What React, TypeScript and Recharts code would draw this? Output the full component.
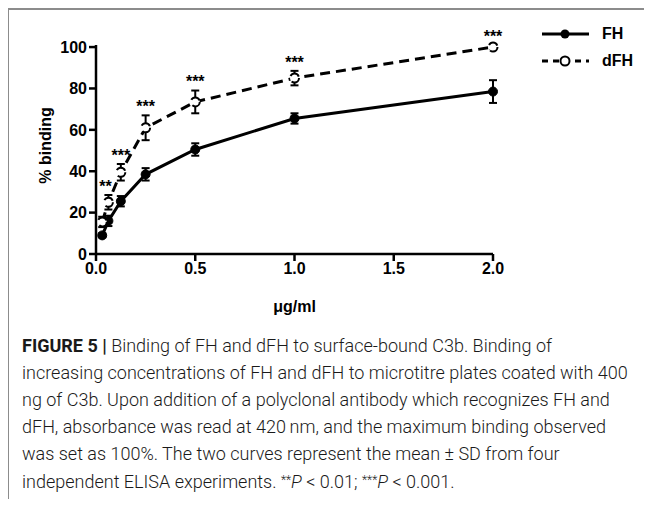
import { ErrorBar, LabelList, Legend, Line, LineChart, XAxis, YAxis } from 'recharts';

// concentrations (µg/ml) and mean ± SD % binding
const doses = [0.03125, 0.0625, 0.125, 0.25, 0.5, 1, 2];
const fhMean = [9, 16, 25.5, 38.5, 50.5, 65.5, 78.5];
const fhSd = [1, 2.5, 2.5, 3, 3, 2.5, 5.5];
const dfhMean = [15.5, 25, 39.5, 61, 73.5, 85, 100];
const dfhSd = [2.5, 3.5, 4, 6, 5.5, 3.5, 1];
const stars = ['', '**', '***', '***', '***', '***', '***'];

const xTicks = [0, 0.5, 1, 1.5, 2];
const yTicks = [0, 20, 40, 60, 80, 100];

const data = doses.map((d, i) => ({
	dose: d,
	fh: fhMean[i],
	fhSd: fhSd[i],
	dfh: dfhMean[i],
	dfhSd: dfhSd[i],
	stars: stars[i]
}));

const chartFont = '"Liberation Sans", Arial, sans-serif';
const PLOT_H = 209;

const renderLegend = () => (
	<div style={{ fontFamily: chartFont, fontWeight: 700, fontSize: 16, color: '#000' }}>
		<div style={{ display: 'flex', alignItems: 'center', height: 27 }}>
			<svg width={62} height={14}>
				<line x1={2} x2={49} y1={7} y2={7} stroke="#000" strokeWidth={3} />
				<circle cx={25} cy={7} r={4.5} fill="#000" />
			</svg>
			<span>FH</span>
		</div>
		<div style={{ display: 'flex', alignItems: 'center', height: 27 }}>
			<svg width={62} height={14}>
				<line x1={2} x2={49} y1={7} y2={7} stroke="#000" strokeWidth={3} strokeDasharray="6 5" />
				<circle cx={25} cy={7} r={4.5} fill="#fff" stroke="#000" strokeWidth={2} />
			</svg>
			<span>dFH</span>
		</div>
	</div>
);

const renderStars = (props: any) => {
	const { x, y, value, index } = props;
	if (!value) return null;
	const off = (dfhSd[index] * PLOT_H) / 100;
	return (
		<text x={x - (value.length === 2 ? 3 : 0)} y={y - off - 3} textAnchor="middle" fontFamily={chartFont} fontWeight={700} fontSize={16} fill="#000">
			{value}
		</text>
	);
};

const captionLines = [
	'increasing concentrations of FH and dFH to microtitre plates coated with 400',
	'ng of C3b. Upon addition of a polyclonal antibody which recognizes FH and',
	'dFH, absorbance was read at 420\u2009nm, and the maximum binding observed',
	'was set as 100%. The two curves represent the mean \u00b1 SD from four'
];

export default function App() {
	return (
		<div style={{ position: 'relative', width: 652, height: 507, margin: -8, background: '#fff', overflow: 'hidden' }}>
			<div style={{ position: 'absolute', left: 7, right: 0, top: 8, height: 2, background: '#8c8c8c' }} />
			<div style={{ position: 'absolute', left: 7, top: 8, bottom: 0, width: 2, background: '#8c8c8c' }} />
			<div style={{ position: 'absolute', left: 0, top: 0 }}>
				<LineChart width={652} height={330} data={data} margin={{ top: 45, right: 159, bottom: 16, left: 36 }}>
					<XAxis
						dataKey="dose"
						type="number"
						domain={[0, 2]}
						ticks={xTicks}
						tickFormatter={(v: number) => v.toFixed(1)}
						height={60}
						stroke="#000"
						strokeWidth={2.5}
						tickSize={7}
						tick={{ fill: '#000', fontSize: 16, fontWeight: 700, fontFamily: chartFont }}
						label={{
							content: (p: any) => (
								<text x={p.viewBox.x + p.viewBox.width / 2} y={p.viewBox.y + 58} textAnchor="middle" fontFamily={chartFont} fontWeight={700} fontSize={16} fill="#000">
									μg/ml
								</text>
							)
						}}
					/>
					<YAxis
						type="number"
						domain={[0, 100]}
						ticks={yTicks}
						width={60}
						stroke="#000"
						strokeWidth={2.5}
						tickSize={7}
						tick={{ fill: '#000', fontSize: 16, fontWeight: 700, fontFamily: chartFont }}
						label={{
							content: (p: any) => {
								const cx = p.viewBox.x + 9;
								const cy = p.viewBox.y + p.viewBox.height / 2 - 4;
								return (
									<text x={cx} y={cy} transform={`rotate(-90 ${cx} ${cy})`} textAnchor="middle" dominantBaseline="central" fontFamily={chartFont} fontWeight={700} fontSize={16} fill="#000">
										% binding
									</text>
								);
							}
						}}
					/>
					<Legend layout="vertical" align="center" verticalAlign="middle" content={renderLegend} wrapperStyle={{ left: 540, top: 20, width: 110 }} />
					<Line
						dataKey="fh"
						name="FH"
						stroke="#000"
						strokeWidth={3}
						dot={{ r: 4.5, fill: '#000', stroke: '#000', strokeWidth: 1 }}
						isAnimationActive={false}
					>
						<ErrorBar dataKey="fhSd" direction="y" width={4} stroke="#000" strokeWidth={2} />
					</Line>
					<Line
						dataKey="dfh"
						name="dFH"
						stroke="#000"
						strokeWidth={3}
						strokeDasharray="10 6"
						dot={{ r: 4.5, fill: '#fff', stroke: '#000', strokeWidth: 2 }}
						isAnimationActive={false}
					>
						<ErrorBar dataKey="dfhSd" direction="y" width={4} stroke="#000" strokeWidth={2} />
						<LabelList dataKey="stars" content={renderStars} />
					</Line>
				</LineChart>
			</div>
			<div
				style={{
					position: 'absolute',
					left: 22,
					top: 332,
					fontFamily: 'Roboto, sans-serif',
					fontWeight: 300,
					fontSize: 18,
					lineHeight: '27px',
					color: '#1a1a1a',
					whiteSpace: 'nowrap'
				}}
			>
				<div>
					<span style={{ fontWeight: 700 }}>FIGURE 5 |</span> Binding of FH and dFH to surface-bound C3b. Binding of
				</div>
				{captionLines.map((l, i) => (
					<div key={i}>{l}</div>
				))}
				<div>
					independent ELISA experiments. <sup style={{ fontSize: 12, verticalAlign: 4 }}>**</sup>
					<i>P</i> &lt; 0.01; <sup style={{ fontSize: 12, verticalAlign: 4 }}>***</sup>
					<i>P</i> &lt; 0.001.
				</div>
			</div>
		</div>
	);
}
